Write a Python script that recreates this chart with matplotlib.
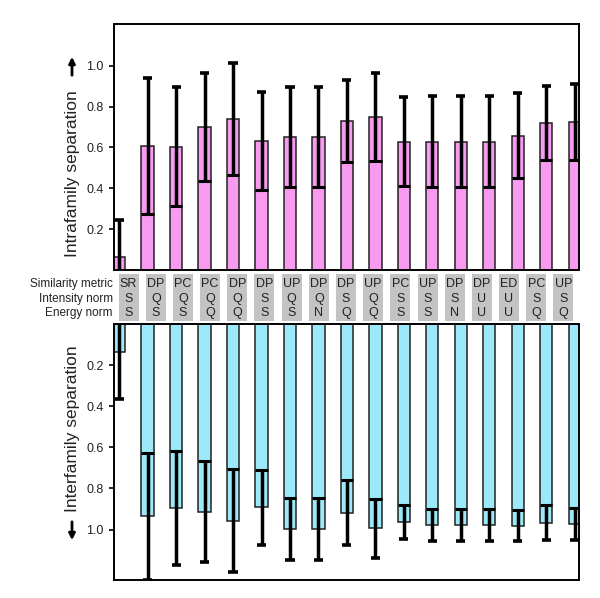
import numpy as np
import matplotlib
matplotlib.use("Agg")
import matplotlib.pyplot as plt
from matplotlib.patches import Rectangle

plt.rcParams['font.family'] = ['Liberation Sans', 'DejaVu Sans']

# combinaisons (metrique / norme intensite / norme energie)
similarity = ['SR', 'DP', 'PC', 'PC', 'DP', 'DP', 'UP', 'DP', 'DP', 'UP', 'PC', 'UP', 'DP', 'DP', 'ED', 'PC', 'UP']
intensity = ['S', 'Q', 'Q', 'Q', 'Q', 'S', 'Q', 'Q', 'S', 'Q', 'S', 'S', 'S', 'U', 'U', 'S', 'S']
energy = ['S', 'S', 'S', 'Q', 'Q', 'S', 'S', 'N', 'Q', 'Q', 'S', 'S', 'N', 'U', 'U', 'Q', 'Q']
row_names = ['Similarity metric', 'Intensity norm', 'Energy norm']

# separation intra-famille (haut)
intra_mean = [0.066, 0.607, 0.604, 0.700, 0.739, 0.633, 0.650, 0.650, 0.730, 0.748,
              0.628, 0.628, 0.628, 0.628, 0.656, 0.718, 0.723]
intra_sd = [0.179, 0.335, 0.292, 0.263, 0.273, 0.240, 0.245, 0.245, 0.200, 0.214,
            0.218, 0.222, 0.222, 0.222, 0.208, 0.181, 0.185]

# separation inter-famille (bas, axe inverse)
inter_mean = [0.135, 0.936, 0.896, 0.912, 0.957, 0.891, 0.996, 0.996, 0.917, 0.993,
              0.964, 0.977, 0.977, 0.977, 0.980, 0.966, 0.973]
inter_sd = [0.230, 0.307, 0.277, 0.247, 0.250, 0.182, 0.152, 0.152, 0.156, 0.144,
            0.083, 0.077, 0.077, 0.077, 0.073, 0.084, 0.077]

yticks = [0.2, 0.4, 0.6, 0.8, 1.0]

PINK = '#F79AF0'
CYAN = '#9BE9F9'
BOX_GREY = '#C3C3C3'
W = 0.43


def draw_panel(ax, mean, sd, color):
    x = np.arange(len(mean))
    mean = np.array(mean)
    sd = np.array(sd)
    ax.bar(x, mean, width=W, color=color, edgecolor='#222222', linewidth=1.1, zorder=2)
    lo = mean - sd
    hi = mean + sd
    ax.vlines(x, lo, hi, color='black', lw=2.5, zorder=3)
    ax.hlines(hi, x - 0.16, x + 0.16, color='black', lw=2.6, zorder=3)
    ax.hlines(lo, x - W / 2, x + W / 2, color='black', lw=2.2, zorder=3)
    ax.set_xlim(-0.18, 16.15)
    ax.set_xticks([])
    ax.set_yticks(yticks)
    ax.set_yticklabels(['%.1f' % v for v in yticks])
    ax.tick_params(axis='y', direction='out', length=3.5, width=1.2, pad=4,
                   labelsize=9, labelcolor='#222222')
    for s in ax.spines.values():
        s.set_linewidth(1.4)


fig = plt.figure(figsize=(6, 5.98), dpi=100)

ax_top = fig.add_axes([114 / 600, (598 - 270) / 598, 465 / 600, 246 / 598])
draw_panel(ax_top, intra_mean, intra_sd, PINK)
ax_top.set_ylim(0, 1.204)

ax_bot = fig.add_axes([114 / 600, (598 - 580) / 598, 465 / 600, 256 / 598])
draw_panel(ax_bot, inter_mean, inter_sd, CYAN)
ax_bot.set_ylim(1.245, 0)

# rangee d'etiquettes entre les deux panneaux
ax_lab = fig.add_axes([115 / 600, (598 - 321) / 598, 462 / 600, 47 / 598])
ax_lab.set_xlim(-0.5, len(similarity) - 0.5)
ax_lab.set_ylim(0, 1)
ax_lab.axis('off')
row_y = [0.794, 0.474, 0.177]
for i in range(len(similarity)):
    ax_lab.add_patch(Rectangle((i - 0.367, 0), 0.734, 1, facecolor=BOX_GREY, edgecolor='none'))
    for txt, yy in zip([similarity[i], intensity[i], energy[i]], row_y):
        ax_lab.text(i, yy, txt, ha='center', va='center', fontsize=9, color='#222222')
for name, yy in zip(row_names, row_y):
    ax_lab.text(-0.58, yy, name, ha='right', va='center', fontsize=8.5, color='#222222')

# titres des axes + fleches
fig.text(72 / 600, 1 - 173.5 / 598, 'Intrafamily separation', rotation=90,
         ha='center', va='center', fontsize=12.5, color='#222222')
fig.text(72 / 600, 1 - 429 / 598, 'Interfamily separation', rotation=90,
         ha='center', va='center', fontsize=12.5, color='#222222')
ax_top.annotate('', xy=(72 / 600, 1 - 54 / 598), xytext=(72 / 600, 1 - 78 / 598),
                xycoords='figure fraction', textcoords='figure fraction',
                arrowprops=dict(arrowstyle='-|>', color='black', lw=2, mutation_scale=9))
ax_bot.annotate('', xy=(72 / 600, 1 - 543 / 598), xytext=(72 / 600, 1 - 519 / 598),
                xycoords='figure fraction', textcoords='figure fraction',
                arrowprops=dict(arrowstyle='-|>', color='black', lw=2, mutation_scale=9))

plt.savefig('out.png', dpi=100)
